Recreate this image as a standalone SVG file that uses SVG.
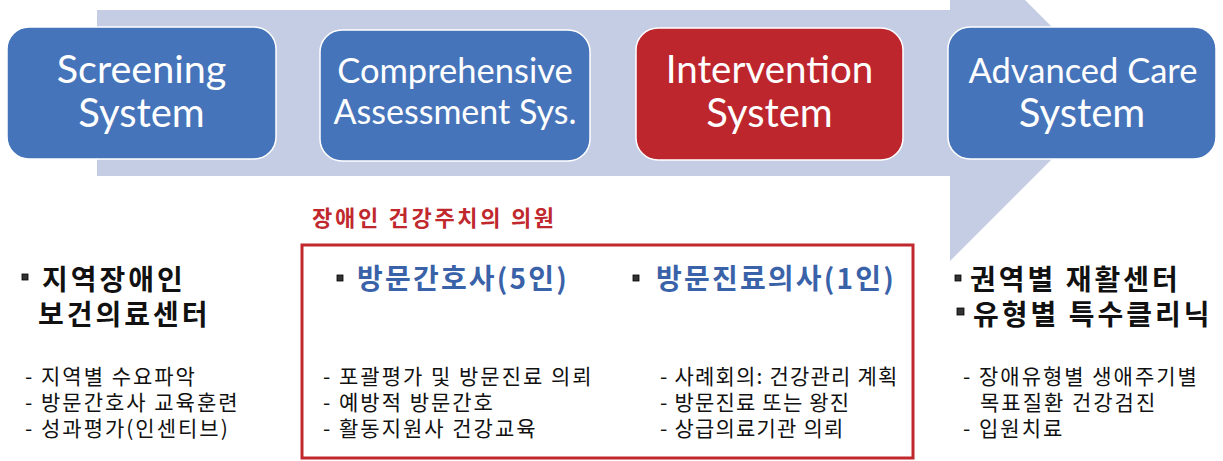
<svg xmlns="http://www.w3.org/2000/svg" width="1223" height="461" viewBox="0 0 1223 461">
<style>
.box{stroke:#ffffff;stroke-width:1.5}
.blue{fill:#4674BA}
.red{fill:#BE262E}
.bt{font-family:Lato,"Open Sans",sans-serif;fill:#ffffff;text-anchor:middle}
.kr{font-family:"Noto Sans CJK KR","Noto Sans",sans-serif}
.h{font-size:28px;font-weight:700;fill:#111111;letter-spacing:3px}
.hb{font-size:28px;font-weight:700;fill:#3A62A8;letter-spacing:2.2px}
.s{font-size:21px;fill:#111111;letter-spacing:2px}
.s2{letter-spacing:1.2px}
.bul{fill:#333333;stroke:#000;stroke-width:0.8}
</style>
<g id="arrow">
<polygon points="97,10 950,10 950,-75 1118,93 950,261 950,176 97,176" fill="#C4CDE4"/>
</g>
<g id="screening">
<rect class="box blue" x="7" y="27" width="269" height="132" rx="22"/>
<text class="bt" x="141.5" y="83" font-size="39.5">Screening</text>
<text class="bt" x="141.5" y="127" font-size="40">System</text>
</g>
<g id="comprehensive">
<rect class="box blue" x="320" y="30" width="270" height="131" rx="22"/>
<text class="bt" x="455" y="83" font-size="34.5">Comprehensive</text>
<text class="bt" x="455" y="124" font-size="34">Assessment Sys.</text>
</g>
<g id="intervention">
<rect class="box red" x="636" y="28" width="267" height="132" rx="22"/>
<text class="bt" x="769.5" y="83" font-size="38.5">Intervention</text>
<text class="bt" x="769.5" y="127" font-size="40">System</text>
</g>
<g id="advanced">
<rect class="box blue" x="948" y="27" width="268" height="132" rx="22"/>
<text class="bt" x="1083" y="83" font-size="34.5">Advanced Care</text>
<text class="bt" x="1082" y="127" font-size="40">System</text>
</g>
<g id="connectors"></g>
<g id="left-col">
<rect class="bul" x="22" y="274" width="6" height="6"/>
<text class="kr h"><tspan x="42" y="290">지역장애인</tspan><tspan x="38" y="325">보건의료센터</tspan></text>
<text class="kr s"><tspan x="25" y="384">- 지역별 수요파악</tspan><tspan x="25" y="410">- 방문간호사 교육훈련</tspan><tspan x="25" y="436">- 성과평가(인센티브)</tspan></text>
</g>
<g id="clinic">
<text class="kr" x="312" y="226" font-size="22" font-weight="700" fill="#C0282D" letter-spacing="2.7">장애인 건강주치의 의원</text>
<rect x="302" y="245" width="611" height="213" fill="none" stroke="#C0282D" stroke-width="3"/>
<rect class="bul" x="337" y="275" width="6" height="6"/>
<text class="kr hb" x="357" y="289">방문간호사(5인)</text>
<rect class="bul" x="633" y="275" width="6" height="6"/>
<text class="kr hb" x="656" y="289">방문진료의사(1인)</text>
<text class="kr s"><tspan x="323" y="384">- 포괄평가 및 방문진료 의뢰</tspan><tspan x="323" y="410">- 예방적 방문간호</tspan><tspan x="323" y="436">- 활동지원사 건강교육</tspan></text>
<text class="kr s s2"><tspan x="660" y="384">- 사례회의: 건강관리 계획</tspan><tspan x="660" y="410">- 방문진료 또는 왕진</tspan><tspan x="660" y="436">- 상급의료기관 의뢰</tspan></text>
</g>
<g id="right-col">
<rect class="bul" x="955" y="275" width="6" height="6"/>
<rect class="bul" x="957" y="308" width="7" height="7"/>
<text class="kr h"><tspan x="970" y="290">권역별 재활센터</tspan><tspan x="973" y="325">유형별 특수클리닉</tspan></text>
<text class="kr s"><tspan x="963" y="384">- 장애유형별 생애주기별</tspan><tspan x="980" y="410">목표질환 건강검진</tspan><tspan x="963" y="436">- 입원치료</tspan></text>
</g>
</svg>
